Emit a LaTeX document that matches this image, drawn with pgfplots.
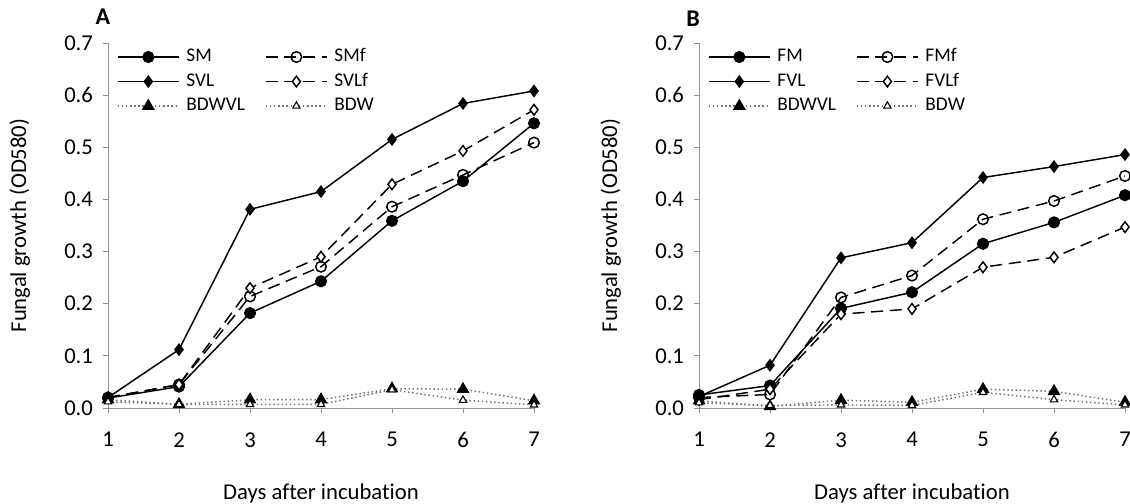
\documentclass[border=0pt]{standalone}
\usepackage{pgfplots}
\pgfplotsset{compat=1.18}
\usepackage{fontspec}
\setmainfont[Ligatures={NoCommon,NoDiscretionary}]{Carlito}

\pgfplotstableread{
x SM SVL SMf SVLf BDWVL BDW
1 0.019 0.020 0.020 0.020 0.016 0.012
2 0.041 0.112 0.045 0.045 0.007 0.007
3 0.182 0.381 0.214 0.230 0.016 0.007
4 0.243 0.415 0.271 0.290 0.016 0.007
5 0.359 0.515 0.386 0.429 0.037 0.035
6 0.435 0.584 0.447 0.493 0.036 0.015
7 0.546 0.608 0.509 0.572 0.014 0.006
}\tableA

\pgfplotstableread{
x FM FVL FMf FVLf BDWVL BDW
1 0.025 0.022 0.020 0.016 0.014 0.010
2 0.043 0.082 0.026 0.036 0.003 0.005
3 0.191 0.288 0.212 0.180 0.015 0.006
4 0.222 0.317 0.254 0.190 0.011 0.005
5 0.315 0.442 0.362 0.270 0.036 0.030
6 0.356 0.463 0.397 0.289 0.032 0.016
7 0.408 0.486 0.445 0.347 0.011 0.006
}\tableB

\pgfplotsset{
  panel/.style={
    scale only axis,
    width=319.5pt, height=273.75pt,
    xmin=1, xmax=7, ymin=0, ymax=0.7,
    axis x line*=bottom, axis y line*=left,
    x axis line style={-, draw=gray!85}, y axis line style={-, draw=gray!85},
    xtick={1,...,7}, ytick={0,0.1,...,0.7},
    tick align=outside, major tick length=3.75pt,
    tick style={draw=gray!85, line width=0.6pt},
    yticklabel style={/pgf/number format/.cd, fixed, fixed zerofill, precision=1, /tikz/.cd, xshift=-4pt},
    /pgf/number format/assume math mode=true,
    ticklabel style={font=\fontsize{17}{19}\selectfont},
    xticklabel style={yshift=-11pt},
    xlabel={Days after incubation},
    ylabel={Fungal growth (OD580)},
    every axis x label/.style={at={(axis description cs:0.5,-0.233)}, anchor=center, font=\fontsize{17}{20}\selectfont},
    every axis y label/.style={at={(axis description cs:-0.207,0.5)}, anchor=center, rotate=90, font=\fontsize{17}{20}\selectfont},
    clip=false,
    legend columns=2,
    legend cell align=left,
    legend style={draw=none, fill=none, inner sep=0pt, outer sep=0pt,
      at={(axis description cs:0.021,0.989)}, anchor=north west,
      font=\fontsize{14.5}{16}\selectfont,
      column sep=4pt, row sep=3.4pt,
      nodes={inner sep=1pt, text height=10pt, text depth=3pt},
      /tikz/every even column/.append style={column sep=14pt}},
    legend image code/.code={\draw[mark repeat=2, mark phase=2] plot coordinates {(0pt,0pt) (23pt,0pt) (46pt,0pt)};},
  },
  solidS/.style={black, line width=1.1pt, solid},
  dashS/.style={black, line width=1.1pt, dash pattern=on 9pt off 5pt},
  dotS/.style={gray!90!black, line width=1.1pt, dotted},
}

\begin{document}
\begin{tikzpicture}
\begin{axis}[panel,
  title={\textbf{A}}, title style={at={(axis description cs:-0.012,1.049)}, anchor=center, font=\fontsize{18}{20}\selectfont}]
\addplot[solidS, mark=*, mark size=4pt, mark options={solid, fill=black}] table[x=x,y=SM]{\tableA};
\addlegendentry{SM}
\addplot[dashS, mark=o, mark size=4pt, mark options={solid, fill=white}] table[x=x,y=SMf]{\tableA};
\addlegendentry{SMf}
\addplot[solidS, mark=diamond*, mark size=4pt, mark options={solid, fill=black}] table[x=x,y=SVL]{\tableA};
\addlegendentry{SVL}
\addplot[dashS, mark=diamond*, mark size=4pt, mark options={solid, fill=white, draw=black}] table[x=x,y=SVLf]{\tableA};
\addlegendentry{SVLf}
\addplot[dotS, mark=triangle*, mark size=4.5pt, mark options={solid, fill=black, draw=black}] table[x=x,y=BDWVL]{\tableA};
\addlegendentry{BDWVL}
\addplot[dotS, mark=triangle*, mark size=3.2pt, mark options={solid, fill=white, draw=black, line width=0.8pt}] table[x=x,y=BDW]{\tableA};
\addlegendentry{BDW}
\end{axis}

\begin{axis}[panel, xshift=443.25pt,
  title={\textbf{B}}, title style={at={(axis description cs:-0.014,1.044)}, anchor=center, font=\fontsize{18}{20}\selectfont}]
\addplot[solidS, mark=*, mark size=4pt, mark options={solid, fill=black}] table[x=x,y=FM]{\tableB};
\addlegendentry{FM}
\addplot[dashS, mark=o, mark size=4pt, mark options={solid, fill=white}] table[x=x,y=FMf]{\tableB};
\addlegendentry{FMf}
\addplot[solidS, mark=diamond*, mark size=4pt, mark options={solid, fill=black}] table[x=x,y=FVL]{\tableB};
\addlegendentry{FVL}
\addplot[dashS, mark=diamond*, mark size=4pt, mark options={solid, fill=white, draw=black}] table[x=x,y=FVLf]{\tableB};
\addlegendentry{FVLf}
\addplot[dotS, mark=triangle*, mark size=4.5pt, mark options={solid, fill=black, draw=black}] table[x=x,y=BDWVL]{\tableB};
\addlegendentry{BDWVL}
\addplot[dotS, mark=triangle*, mark size=3.2pt, mark options={solid, fill=white, draw=black, line width=0.8pt}] table[x=x,y=BDW]{\tableB};
\addlegendentry{BDW}
\end{axis}
\pgfresetboundingbox
\path[use as bounding box] (-81pt,-71.25pt) rectangle (766.5pt,306pt);
\end{tikzpicture}
\end{document}
